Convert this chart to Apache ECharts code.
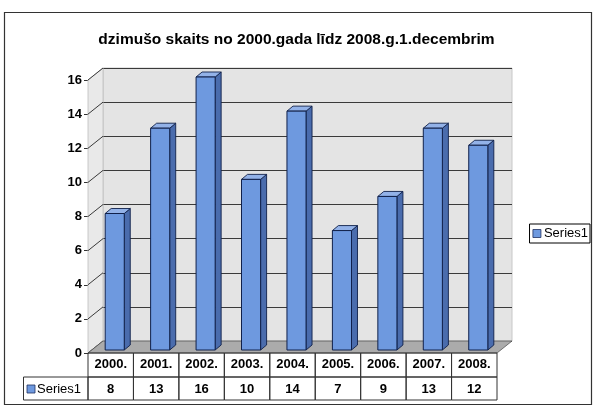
<!DOCTYPE html>
<html><head><meta charset="utf-8">
<script src="https://cdn.jsdelivr.net/npm/echarts@6/dist/echarts.min.js"></script>
<style>html,body{margin:0;padding:0;background:#fff}#c{width:593px;height:406px}</style>
</head><body><div id="c"></div>
<script>
const titleText = 'dzimušo skaits no 2000.gada līdz 2008.g.1.decembrim';
const categories = ['2000.', '2001.', '2002.', '2003.', '2004.', '2005.', '2006.', '2007.', '2008.'];
const seriesName = 'Series1';
const values = [8, 13, 16, 10, 14, 7, 9, 13, 12];
const yMin = 0, yMax = 16, yStep = 2;

const FONT = '"Liberation Sans", Arial, sans-serif';
const DX = 15, DY = -12;          // depth offset of back wall
const BDX = 6, BDY = -5;          // bar depth
const front = '#6e99df', side = '#4a6cad', topc = '#93b2e8', edge = '#10204a';

const chart = echarts.init(document.getElementById('c'), null, {renderer: 'canvas'});

const option = {
  backgroundColor: '#fff',
  animation: false,
  title: {
    text: titleText, left: 'center', top: 27,
    textStyle: {fontFamily: FONT, fontSize: 15.5, fontWeight: 'bold', color: '#000'}
  },
  legend: {
    data: [seriesName], right: 3, top: 224, orient: 'vertical',
    icon: 'rect', itemWidth: 8, itemHeight: 8, itemGap: 4,
    padding: [3, 2, 3, 3], borderColor: '#000', borderWidth: 1,
    textStyle: {fontFamily: FONT, fontSize: 13, color: '#000', padding: [0, 0, 0, -2]},
    itemStyle: {borderColor: '#203060', borderWidth: 0.8}
  },
  grid: [
    {left: 88, top: 80, width: 409, height: 273, containLabel: false},
    {left: 88 + DX, top: 80 + DY, width: 409, height: 273, show: true,
     backgroundColor: '#e4e4e4', borderColor: '#c8c8c8', borderWidth: 1}
  ],
  xAxis: [
    {type: 'category', gridIndex: 0, data: categories,
     axisLine: {show: false}, axisTick: {show: false},
     axisLabel: {margin: 5, fontFamily: FONT, fontSize: 13, fontWeight: 'bold', color: '#000'}},
    {type: 'category', gridIndex: 1, data: categories, show: false}
  ],
  yAxis: [
    {type: 'value', gridIndex: 0, min: yMin, max: yMax, interval: yStep,
     axisLine: {show: true, lineStyle: {color: '#333', width: 1}},
     axisTick: {show: true, length: 4, lineStyle: {color: '#333'}},
     splitLine: {show: false},
     axisLabel: {margin: 6, fontFamily: FONT, fontSize: 13, fontWeight: 'bold', color: '#000'}},
    {type: 'value', gridIndex: 1, min: yMin, max: yMax, interval: yStep,
     axisLine: {show: false}, axisTick: {show: false}, axisLabel: {show: false},
     splitLine: {show: true, lineStyle: {color: '#3a3a3a', width: 1}}}
  ],
  series: [
    { // side wall + floor
      type: 'custom', xAxisIndex: 0, yAxisIndex: 0, z: 1, silent: true,
      data: [0],
      renderItem: function (params, api) {
        const cs = params.coordSys;
        const x0 = cs.x, y0 = cs.y, x1 = cs.x + cs.width, y1 = cs.y + cs.height;
        const children = [];
        children.push({type: 'polygon', shape: {points: [[x0, y0], [x0 + DX, y0 + DY], [x0 + DX, y1 + DY], [x0, y1]]},
          style: {fill: '#e9e9e9', stroke: '#bdbdbd', lineWidth: 0.8}});
        for (let v = yMin; v <= yMax; v += yStep) {
          const p = api.coord([0, v]);
          children.push({type: 'line', shape: {x1: x0, y1: p[1], x2: x0 + DX, y2: p[1] + DY},
            style: {stroke: '#3a3a3a', lineWidth: 1}});
        }
        children.push({type: 'polygon', shape: {points: [[x0, y1], [x0 + DX, y1 + DY], [x1 + DX, y1 + DY], [x1, y1]]},
          style: {fill: '#ababab', stroke: '#555', lineWidth: 0.8}});
        return {type: 'group', children: children};
      }
    },
    { // bars
      name: seriesName, type: 'custom', xAxisIndex: 0, yAxisIndex: 0, z: 3,
      itemStyle: {color: front},
      data: values.map((v, i) => [i, v]),
      renderItem: function (params, api) {
        const i = api.value(0), v = api.value(1);
        const p = api.coord([i, v]);
        const p0 = api.coord([i, 0]);
        const band = api.size([1, 0])[0];
        const w = band * 0.42;
        const x = p[0] - w / 2 + 4, y = p[1] - 3, yb = p0[1] - 3;
        return {type: 'group', children: [
          {type: 'polygon', shape: {points: [[x + w, y], [x + w + BDX, y + BDY], [x + w + BDX, yb + BDY], [x + w, yb]]},
           style: {fill: side, stroke: edge, lineWidth: 0.9}},
          {type: 'polygon', shape: {points: [[x, y], [x + BDX, y + BDY], [x + w + BDX, y + BDY], [x + w, y]]},
           style: {fill: topc, stroke: edge, lineWidth: 0.9}},
          {type: 'rect', shape: {x: x, y: y, width: w, height: yb - y},
           style: {fill: front, stroke: edge, lineWidth: 1}}
        ]};
      }
    },
    { // data table
      type: 'custom', xAxisIndex: 0, yAxisIndex: 0, z: 4, silent: true, clip: false,
      data: values.map((v, i) => [i, v]),
      renderItem: function (params, api) {
        const i = api.value(0), v = api.value(1);
        const c = api.coord([i, 0]);
        const band = api.size([1, 0])[0];
        const xl = c[0] - band / 2;
        const yt = c[1];
        return {type: 'group', children: [
          {type: 'rect', shape: {x: xl, y: yt, width: band, height: 24},
           style: {fill: 'none', stroke: '#333', lineWidth: 1}},
          {type: 'rect', shape: {x: xl, y: yt + 24, width: band, height: 23},
           style: {fill: 'none', stroke: '#333', lineWidth: 1}},
          {type: 'text', style: {text: String(v), x: c[0], y: yt + 24 + 12, align: 'center', verticalAlign: 'middle',
            font: 'bold 13px ' + FONT, fill: '#000'}}
        ]};
      }
    }
  ],
  graphic: [
    {type: 'rect', shape: {x: 4.5, y: 12.5, width: 587, height: 392}, style: {fill: 'none', stroke: '#333', lineWidth: 1.2}, z: 0, silent: true},
    {type: 'rect', shape: {x: 23.5, y: 377, width: 64.5, height: 23}, style: {fill: 'none', stroke: '#333', lineWidth: 1}, z: 10},
    {type: 'rect', shape: {x: 27, y: 385, width: 8, height: 8}, style: {fill: front, stroke: '#203060', lineWidth: 0.8}, z: 10},
    {type: 'text', style: {text: seriesName, x: 37, y: 389, verticalAlign: 'middle', font: '13px ' + FONT, fill: '#000'}, z: 10}
  ]
};
chart.setOption(option);
</script></body></html>
